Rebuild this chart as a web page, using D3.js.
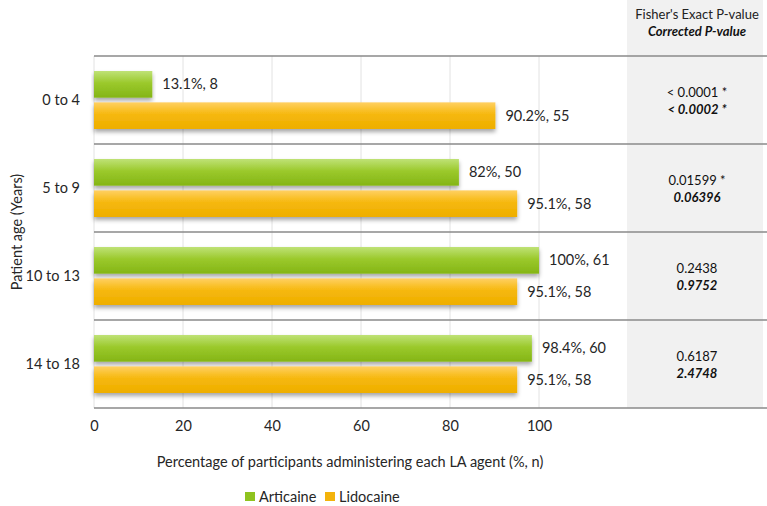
<!DOCTYPE html>
<html>
<head>
<meta charset="utf-8">
<script src="https://cdnjs.cloudflare.com/ajax/libs/d3/7.8.5/d3.min.js"></script>
<style>
  body { margin: 0; background: #fff; }
  text { font-family: Lato, "Open Sans", sans-serif; fill: #262626; }
</style>
</head>
<body>
<div class="chart"></div>
<script>
var ages = ["0 to 4", "5 to 9", "10 to 13", "14 to 18"];
var seriesNames = ["Articaine", "Lidocaine"];
var articainePct = [13.1, 82, 100, 98.4];
var articaineN = [8, 50, 61, 60];
var lidocainePct = [90.2, 95.1, 95.1, 95.1];
var lidocaineN = [55, 58, 58, 58];
var fisherP = ["< 0.0001 *", "0.01599 *", "0.2438", "0.6187"];
var correctedP = ["< 0.0002 *", "0.06396", "0.9752", "2.4748"];
var xTicks = [0, 20, 40, 60, 80, 100];

var w = 767, h = 506;
var plotLeft = 94, plotTop = 56, plotBottom = 408;
var panelX = 627;
var fs = '14.5px';

var svg = d3.select('.chart').append('svg')
	.attr('width', w)
	.attr('height', h);

var defs = svg.append('defs');

// bar gradients
var grads = [
	{id: 'gGreen', c1: '#bfe276', c2: '#9bc92c', c3: '#84b515'},
	{id: 'gOrange', c1: '#ffd062', c2: '#f6b80c', c3: '#eeae00'}
];
grads.forEach(function(g){
	var lg = defs.append('linearGradient')
		.attr('id', g.id)
		.attr('x1', 0).attr('y1', 0).attr('x2', 0).attr('y2', 1);
	lg.append('stop').attr('offset', '0%').attr('stop-color', g.c1);
	lg.append('stop').attr('offset', '45%').attr('stop-color', g.c2);
	lg.append('stop').attr('offset', '100%').attr('stop-color', g.c3);
});

var shadow = defs.append('filter')
	.attr('id', 'shadow')
	.attr('x', '-5%').attr('y', '-20%')
	.attr('width', '110%').attr('height', '160%');
shadow.append('feDropShadow')
	.attr('dx', 0).attr('dy', 3)
	.attr('stdDeviation', 2)
	.attr('flood-color', '#000')
	.attr('flood-opacity', 0.35);

var x = d3.scaleLinear().domain([0, 100]).range([plotLeft, 539]);
var y = d3.scaleBand().domain(ages).range([plotTop, plotBottom]);
var ySub = d3.scaleBand().domain(seriesNames).range([15, 73]).paddingInner(0.15);

var rows = ages.map(function(a, i){
	return {
		age: a,
		vals: [
			{s: 'Articaine', pct: articainePct[i], n: articaineN[i], fill: 'url(#gGreen)'},
			{s: 'Lidocaine', pct: lidocainePct[i], n: lidocaineN[i], fill: 'url(#gOrange)'}
		],
		p1: fisherP[i],
		p2: correctedP[i]
	};
});

/*---------------------------P-VALUE PANEL--------------------------*/

svg.append('rect')
	.attr('x', panelX).attr('y', 0)
	.attr('width', w - panelX - 4).attr('height', plotBottom)
	.attr('fill', '#f1f1f1');

svg.append('text')
	.attr('x', 697).attr('y', 19)
	.attr('text-anchor', 'middle')
	.style('font-size', '13px')
	.style('fill', '#222')
	.text("Fisher's Exact P-value");

svg.append('text')
	.attr('x', 697).attr('y', 36)
	.attr('text-anchor', 'middle')
	.style('font-size', '13px')
	.style('font-weight', 'bold')
	.style('font-style', 'italic')
	.style('fill', '#111')
	.text('Corrected P-value');

/*---------------------------GRID--------------------------*/

svg.selectAll('.grid').data(xTicks)
	.enter().append('line')
	.attr('x1', function(d){ return x(d); })
	.attr('x2', function(d){ return x(d); })
	.attr('y1', plotTop)
	.attr('y2', plotBottom)
	.style('stroke', '#e2e2e2')
	.style('stroke-width', 1);

// separators between age groups
var seps = ages.map(function(a){ return y(a); }).concat([plotBottom]);
svg.selectAll('.sep').data(seps)
	.enter().append('line')
	.attr('x1', plotLeft)
	.attr('x2', w)
	.attr('y1', function(d){ return d; })
	.attr('y2', function(d){ return d; })
	.style('stroke', '#8a8a8a')
	.style('stroke-width', 1.6);

/*---------------------------BARS--------------------------*/

var groups = svg.selectAll('.group').data(rows)
	.enter().append('g')
	.attr('transform', function(d){ return 'translate(0,' + y(d.age) + ')'; });

groups.selectAll('rect').data(function(d){ return d.vals; })
	.enter().append('rect')
	.attr('x', x(0))
	.attr('y', function(d){ return ySub(d.s); })
	.attr('width', function(d){ return x(d.pct) - x(0); })
	.attr('height', ySub.bandwidth())
	.attr('fill', function(d){ return d.fill; })
	.attr('filter', 'url(#shadow)');

groups.selectAll('.lbl').data(function(d){ return d.vals; })
	.enter().append('text')
	.attr('x', function(d){ return x(d.pct) + 10; })
	.attr('y', function(d){ return ySub(d.s) + ySub.bandwidth() / 2; })
	.attr('dy', '0.35em')
	.style('font-size', fs)
	.text(function(d){ return d.pct + '%, ' + d.n; });

groups.append('text')
	.attr('x', 80)
	.attr('y', y.bandwidth() / 2)
	.attr('dy', '0.35em')
	.attr('text-anchor', 'end')
	.style('font-size', fs)
	.text(function(d){ return d.age; });

groups.append('text')
	.attr('x', 697)
	.attr('y', y.bandwidth() / 2 - 8)
	.attr('dy', '0.35em')
	.attr('text-anchor', 'middle')
	.style('font-size', '13px')
	.style('fill', '#111')
	.text(function(d){ return d.p1; });

groups.append('text')
	.attr('x', 697)
	.attr('y', y.bandwidth() / 2 + 9)
	.attr('dy', '0.35em')
	.attr('text-anchor', 'middle')
	.style('font-size', '13px')
	.style('font-weight', 'bold')
	.style('font-style', 'italic')
	.style('fill', '#111')
	.text(function(d){ return d.p2; });

/*---------------------------AXES--------------------------*/

var xAxis = svg.append('g')
	.attr('transform', 'translate(0,' + plotBottom + ')')
	.call(d3.axisBottom(x).tickValues(xTicks).tickSize(0).tickPadding(13));
xAxis.select('.domain').remove();
xAxis.selectAll('text')
	.style('font-size', fs)
	.style('font-family', 'Lato, sans-serif')
	.attr('fill', '#262626');

svg.append('text')
	.attr('x', 350).attr('y', 467)
	.attr('text-anchor', 'middle')
	.style('font-size', fs)
	.text('Percentage of participants administering each LA agent (%, n)');

svg.append('text')
	.attr('transform', 'translate(22,' + ((plotTop + plotBottom) / 2) + ') rotate(-90)')
	.attr('text-anchor', 'middle')
	.style('font-size', fs)
	.text('Patient age (Years)');

/*---------------------------LEGEND--------------------------*/

var legendColors = ['#8fc31f', '#f3b30b'];
var legendX = [245, 325];
var legend = svg.selectAll('.legend').data(seriesNames)
	.enter().append('g')
	.attr('transform', function(d, i){ return 'translate(' + legendX[i] + ',492)'; });

legend.append('rect')
	.attr('width', 10).attr('height', 9)
	.attr('fill', function(d, i){ return legendColors[i]; });

legend.append('text')
	.attr('x', 14).attr('y', 5)
	.attr('dy', '0.35em')
	.style('font-size', fs)
	.text(function(d){ return d; });
</script>
</body>
</html>
